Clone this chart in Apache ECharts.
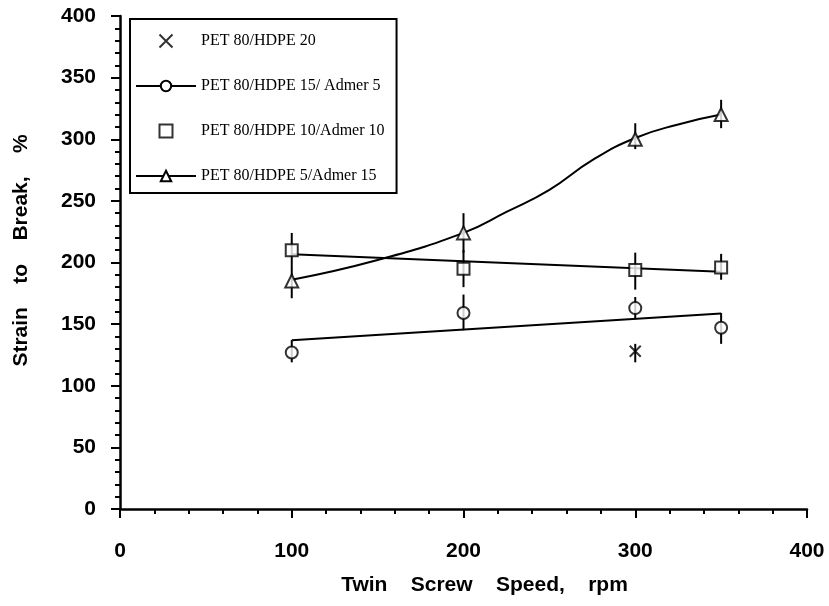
<!DOCTYPE html>
<html>
<head>
<meta charset="utf-8">
<script src="https://cdn.jsdelivr.net/npm/echarts@6/dist/echarts.min.js"></script>
<style>
  html, body { margin: 0; padding: 0; background: #fff; }
  #chart { width: 829px; height: 606px; }
</style>
</head>
<body>
<div id="chart"></div>
<script>
// names of the blends
var names = ['PET 80/HDPE 20', 'PET 80/HDPE 15/ Admer 5', 'PET 80/HDPE 10/Admer 10', 'PET 80/HDPE 5/Admer 15'];

// measured points [rpm, strain %]
var hdpe20 = [[300, 128]];
var admer5 = [[100, 127], [200, 159], [300, 163], [350, 147]];
var admer10 = [[100, 210], [200, 195], [300, 194], [350, 196]];
var admer15 = [[100, 185], [200, 224], [300, 300], [350, 320]];

// error bars [rpm, low, high]
var errHdpe20 = [[300, 119, 134]];
var errAdmer5 = [[100, 119, 137], [200, 145, 174], [300, 154, 172], [350, 134, 159]];
var errAdmer10 = [[100, 198, 224], [200, 180, 210], [300, 178, 208], [350, 186, 207]];
var errAdmer15 = [[100, 171, 198], [200, 208, 240], [300, 292, 313], [350, 309, 332]];

// fitted curves
var fitAdmer5 = [[100, 137], [350, 158.6]];
var fitAdmer10 = [[100, 206.6], [350, 192.5]];
var fitAdmer15 = [[100, 186], [150, 202], [200, 224], [225, 241], [250, 259], [275, 283], [300, 301], [325, 312], [350, 320]];

var xTicks = [0, 100, 200, 300, 400];
var yTicks = [0, 50, 100, 150, 200, 250, 300, 350, 400];

var crossPath = 'path://M0,0L10,10M10,0L0,10';
var squarePath = 'path://M0,0H10V10H0Z';

function errSeries(data) {
    return {
        type: 'custom',
        silent: true,
        z: 2,
        data: data,
        renderItem: function (params, api) {
            var p1 = api.coord([api.value(0), api.value(1)]);
            var p2 = api.coord([api.value(0), api.value(2)]);
            return {
                type: 'line',
                shape: { x1: p1[0], y1: p1[1], x2: p2[0], y2: p2[1] },
                style: { stroke: '#000', lineWidth: 2 }
            };
        }
    };
}

var myChart = echarts.init(document.getElementById('chart'), null, { renderer: 'canvas' });

var labelFont = { fontFamily: 'Liberation Sans', fontWeight: 'bold', fontSize: 21, color: '#000' };
var nameFont = { fontFamily: 'Liberation Sans', fontWeight: 'bold', fontSize: 21, color: '#000' };

myChart.setOption({
    animation: false,
    backgroundColor: '#fff',
    grid: { left: 120, top: 16, right: 22, bottom: 97, containLabel: false },
    legend: {
        data: names,
        orient: 'vertical',
        left: 130,
        top: 19,
        padding: [14, 12, 9, 5],
        itemWidth: 60,
        itemHeight: 13,
        itemGap: 29,
        symbolKeepAspect: true,
        borderColor: '#000',
        borderWidth: 2,
        backgroundColor: '#fff',
        textStyle: { fontFamily: 'Liberation Serif', fontSize: 16, color: '#000' },
        selectedMode: false
    },
    xAxis: {
        type: 'value',
        min: xTicks[0],
        max: xTicks[xTicks.length - 1],
        interval: 100,
        name: 'Twin    Screw    Speed,    rpm',
        nameLocation: 'middle',
        nameGap: 66,
        nameTextStyle: Object.assign({ padding: [0, 0, 0, 42] }, nameFont),
        axisLine: { lineStyle: { color: '#000', width: 2.5 } },
        axisTick: { length: 9, lineStyle: { color: '#000', width: 2 } },
        minorTick: { show: true, splitNumber: 5, length: 5, lineStyle: { color: '#000', width: 2 } },
        axisLabel: Object.assign({ margin: 32 }, labelFont),
        splitLine: { show: false }
    },
    yAxis: {
        type: 'value',
        min: yTicks[0],
        max: yTicks[yTicks.length - 1],
        interval: 50,
        name: 'Strain    to    Break,    %',
        nameLocation: 'middle',
        nameGap: 88,
        nameTextStyle: Object.assign({ padding: [0, 0, 0, 24] }, nameFont),
        axisLine: { lineStyle: { color: '#000', width: 2.5 } },
        axisTick: { length: 9, lineStyle: { color: '#000', width: 2 } },
        minorTick: { show: true, splitNumber: 5, length: 5, lineStyle: { color: '#000', width: 2 } },
        axisLabel: Object.assign({ margin: 24 }, labelFont),
        splitLine: { show: false }
    },
    series: [
        // legend-bearing series
        {
            name: names[0], type: 'scatter', data: hdpe20, symbol: crossPath, symbolSize: 11, z: 5,
            itemStyle: { color: 'rgba(0,0,0,0)', borderColor: '#000', borderWidth: 2 }
        },
        {
            name: names[1], type: 'line', data: fitAdmer5, symbol: 'emptyCircle', showSymbol: false, z: 3,
            lineStyle: { color: '#000', width: 2 }, itemStyle: { color: '#000' }
        },
        {
            name: names[2], type: 'scatter', data: admer10, symbol: squarePath, symbolSize: 12, symbolKeepAspect: true, z: 5,
            itemStyle: { color: '#fff', borderColor: '#000', borderWidth: 2 }
        },
        {
            name: names[3], type: 'line', data: fitAdmer15, smooth: true, symbol: 'emptyTriangle', showSymbol: false, z: 3,
            lineStyle: { color: '#000', width: 2 }, itemStyle: { color: '#000' }
        },
        // other pieces
        {
            type: 'line', data: fitAdmer10, symbol: 'none', z: 3, silent: true,
            lineStyle: { color: '#000', width: 2 }
        },
        {
            type: 'scatter', data: admer5, symbol: 'emptyCircle', symbolSize: 12, z: 5,
            itemStyle: { color: '#000', borderWidth: 2 }
        },
        {
            type: 'scatter', data: admer15, symbol: 'emptyTriangle', symbolSize: 13, z: 5,
            itemStyle: { color: '#000', borderWidth: 2 }
        },
        errSeries(errHdpe20),
        errSeries(errAdmer5),
        errSeries(errAdmer10),
        errSeries(errAdmer15)
    ]
});
</script>
</body>
</html>
